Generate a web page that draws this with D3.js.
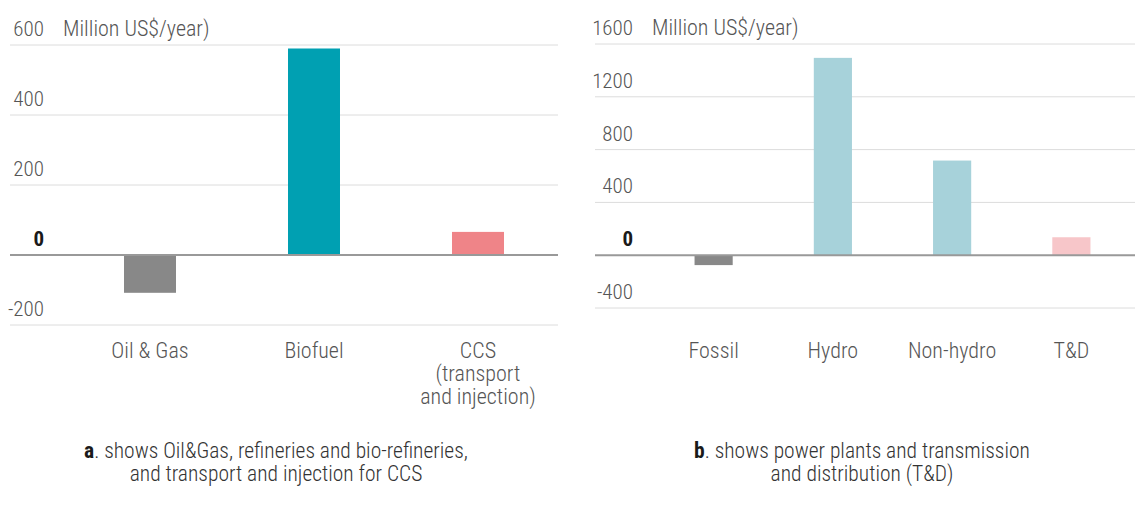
<!DOCTYPE html>
<html>
<head>
<meta charset="utf-8">
<script src="https://cdn.jsdelivr.net/npm/d3@7"></script>
<style>
  body { margin: 0; background: #fff; }
  svg text { font-family: "Roboto Condensed", "Liberation Sans Narrow", "DejaVu Sans Condensed", Roboto, sans-serif; font-weight: 300; }
</style>
</head>
<body>
<svg id="chart" width="1135" height="506"></svg>
<script>
// panel a
const catsA = [['Oil & Gas'], ['Biofuel'], ['CCS', '(transport', 'and injection)']]
const valsA = [-108, 590, 66]
const ticksA = [-200, 0, 200, 400, 600]
const colorsA = ['#888888', '#00A0B2', '#EF8488']

// panel b
const catsB = [['Fossil'], ['Hydro'], ['Non-hydro'], ['T&D']]
const valsB = [-75, 1495, 717, 136]
const ticksB = [-400, 0, 400, 800, 1200, 1600]
const colorsB = ['#888888', '#A7D2DA', '#A7D2DA', '#F7C6C9']

const unit = 'Million US$/year)'

const svg = d3.select('#chart')

const drawPanel = (opt) => {
    const g = svg.append('g')
    const yScale = d3.scaleLinear().domain(opt.domain).range(opt.yRange)
    const xScale = d3.scaleBand().domain(d3.range(opt.cats.length))
        .range(opt.xRange).paddingInner(opt.padIn).paddingOuter(opt.padIn / 2)

    // gridlines
    g.selectAll('.grid')
        .data(opt.ticks.filter(t => t !== 0))
        .enter().append('line')
        .attr('x1', opt.gridX[0]).attr('x2', opt.gridX[1])
        .attr('y1', d => yScale(d)).attr('y2', d => yScale(d))
        .attr('stroke', '#dcdcdc').attr('stroke-width', 1)

    // tick labels
    g.selectAll('.tick')
        .data(opt.ticks)
        .enter().append('text')
        .attr('x', opt.labelX)
        .attr('y', d => yScale(d) - 9)
        .attr('text-anchor', 'end')
        .style('font-size', '21px')
        .style('font-weight', d => d === 0 ? 'bold' : 300)
        .style('fill', d => d === 0 ? '#1a1a1a' : '#555')
        .text(d => d)

    g.append('text')
        .attr('x', opt.labelX + 19)
        .attr('y', yScale(opt.domain[1]) - 9)
        .style('font-size', '22px')
        .style('fill', '#555')
        .text(unit)

    // bars
    g.selectAll('.bar')
        .data(opt.vals)
        .enter().append('rect')
        .attr('x', (d, i) => xScale(i))
        .attr('width', xScale.bandwidth())
        .attr('y', d => yScale(Math.max(0, d)))
        .attr('height', d => Math.abs(yScale(d) - yScale(0)))
        .style('fill', (d, i) => opt.colors[i])

    // zero line
    g.append('line')
        .attr('x1', opt.gridX[0]).attr('x2', opt.gridX[1])
        .attr('y1', yScale(0)).attr('y2', yScale(0))
        .attr('stroke', '#999').attr('stroke-width', 2)

    // category labels
    opt.cats.forEach((lines, i) => {
        const t = g.append('text')
            .attr('x', xScale(i) + xScale.bandwidth() / 2)
            .attr('y', opt.catY)
            .attr('text-anchor', 'middle')
            .style('font-size', '22px')
            .style('fill', '#555')
        lines.forEach((l, j) => {
            t.append('tspan').attr('x', xScale(i) + xScale.bandwidth() / 2)
                .attr('dy', j === 0 ? 0 : 23).text(l)
        })
    })

    // caption, two lines
    const c = g.append('text')
        .attr('x', opt.capX).attr('y', 458)
        .attr('text-anchor', 'middle')
        .style('font-size', '21.5px')
        .style('fill', '#333')
    c.append('tspan').style('font-weight', 'bold').style('fill', '#1a1a1a').text(opt.cap[0])
    c.append('tspan').text(opt.cap[1])
    g.append('text')
        .attr('x', opt.capX).attr('y', 481)
        .attr('text-anchor', 'middle')
        .style('font-size', '21.5px')
        .style('fill', '#333')
        .text(opt.cap[2])
}

drawPanel({
    cats: catsA, vals: valsA, ticks: ticksA, colors: colorsA,
    domain: [-200, 600], yRange: [325, 45],
    xRange: [68, 560], padIn: 0.683, gridX: [10, 558],
    labelX: 44, catY: 358, capX: 276,
    cap: ['a', '. shows Oil&Gas, refineries and bio-refineries,', 'and transport and injection for CCS']
})

drawPanel({
    cats: catsB, vals: valsB, ticks: ticksB, colors: colorsB,
    domain: [-400, 1600], yRange: [308, 44],
    xRange: [654, 1131], padIn: 0.68, gridX: [595, 1135],
    labelX: 633, catY: 358, capX: 862,
    cap: ['b', '. shows power plants and transmission', 'and distribution (T&D)']
})
</script>
</body>
</html>
